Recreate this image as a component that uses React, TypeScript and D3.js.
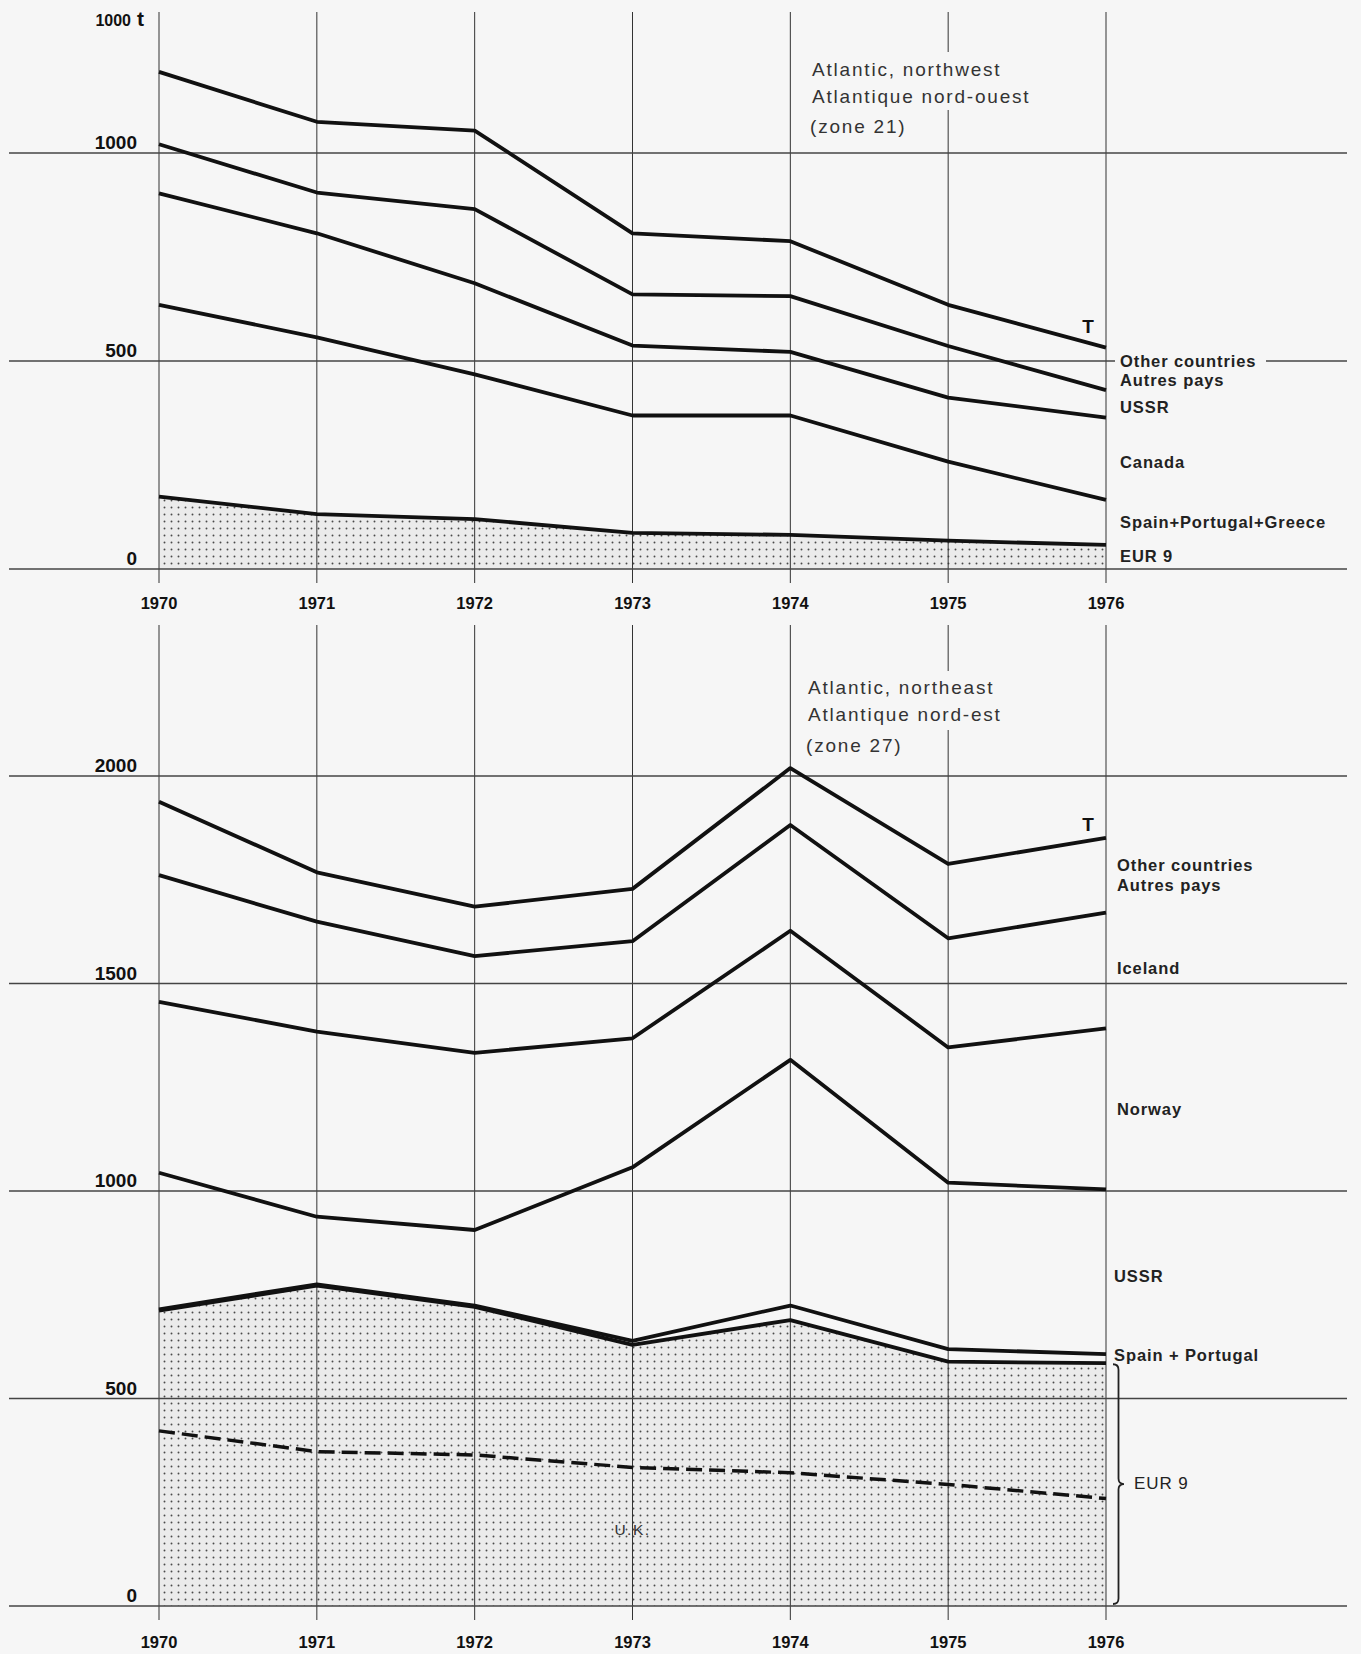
import React from "react";
import * as d3 from "d3";

// ---------- data (1000 t), bands from bottom to top ----------
const years = [1970, 1971, 1972, 1973, 1974, 1975, 1976];

// Atlantic, northwest (zone 21)
const nwEUR9 = [174, 132, 120, 87, 82, 68, 58];
const nwSpainPortugalGreece = [461, 425, 348, 282, 287, 190, 108];
const nwCanada = [268, 250, 219, 168, 153, 154, 198];
const nwUSSR = [118, 98, 178, 123, 134, 124, 66];
const nwOther = [174, 170, 189, 147, 132, 99, 102];
const nwTicks = [0, 500, 1000];

// Atlantic, northeast (zone 27)
const neUK = [422, 372, 364, 334, 321, 293, 259];
const neEUR9Rest = [290, 400, 357, 295, 368, 296, 326];
const neSpainPortugal = [3, 3, 3, 10, 35, 30, 22];
const neUSSR = [329, 163, 182, 418, 592, 401, 397];
const neNorway = [412, 446, 427, 311, 311, 326, 388];
const neIceland = [305, 265, 233, 234, 255, 263, 279];
const neOther = [177, 119, 119, 126, 137, 179, 180];
const neTicks = [0, 500, 1000, 1500, 2000];

const W = 1361;
const H = 1654;
const BG = "#f6f6f6";
const FONT = "'Liberation Sans', Arial, Helvetica, sans-serif";

export default function App() {
  const x = d3.scaleLinear().domain([1970, 1976]).range([159, 1106]);
  const yNW = d3.scaleLinear().domain([0, 1000]).range([569, 153]);
  const yNE = d3.scaleLinear().domain([0, 2000]).range([1606, 776]);

  const nwRows = years.map((yr, i) => ({
    year: yr,
    eur9: nwEUR9[i],
    spg: nwSpainPortugalGreece[i],
    canada: nwCanada[i],
    ussr: nwUSSR[i],
    other: nwOther[i],
  }));
  const nwStack = d3.stack<any>().keys(["eur9", "spg", "canada", "ussr", "other"])(nwRows);

  const neRows = years.map((yr, i) => ({
    year: yr,
    uk: neUK[i],
    eur9rest: neEUR9Rest[i],
    sp: neSpainPortugal[i],
    ussr: neUSSR[i],
    norway: neNorway[i],
    iceland: neIceland[i],
    other: neOther[i],
  }));
  const neStack = d3
    .stack<any>()
    .keys(["uk", "eur9rest", "sp", "ussr", "norway", "iceland", "other"])(neRows);

  const lineFor = (y: d3.ScaleLinear<number, number>) =>
    d3
      .line<any>()
      .x((d: any) => x(d.data.year))
      .y((d: any) => y(d[1]));
  const areaFor = (y: d3.ScaleLinear<number, number>) =>
    d3
      .area<any>()
      .x((d: any) => x(d.data.year))
      .y0(y(0))
      .y1((d: any) => y(d[1]));

  const nwLine = lineFor(yNW);
  const neLine = lineFor(yNE);

  const gridX1 = 9;
  const gridX2 = 1347;

  const brace = (bx: number, y0: number, y1: number, w: number) => {
    const ym = (y0 + y1) / 2;
    return `M${bx},${y0} q${w},0 ${w},${w} L${bx + w},${ym - w} q0,${w} ${w},${w} q${-w},0 ${-w},${w} L${bx + w},${y1 - w} q0,${w} ${-w},${w}`;
  };

  const labelStyle = {
    fontFamily: FONT,
    fontSize: 16.5,
    fontWeight: 700,
    fill: "#222",
    letterSpacing: 0.9,
  } as const;
  const tickStyle = { fontFamily: FONT, fontSize: 19, fontWeight: 700, fill: "#111" } as const;
  const yearStyle = { fontFamily: FONT, fontSize: 16.5, fontWeight: 700, fill: "#111" } as const;
  const titleStyle = {
    fontFamily: FONT,
    fontSize: 19,
    fontWeight: 400,
    fill: "#333",
    letterSpacing: 1.8,
  } as const;

  return (
    <svg
      width={W}
      height={H}
      viewBox={`0 0 ${W} ${H}`}
      style={{ position: "absolute", left: 0, top: 0, display: "block" }}
    >
      <defs>
        <pattern id="dots" width={7} height={7} patternUnits="userSpaceOnUse">
          <rect width={7} height={7} fill="#ebebeb" />
          <circle cx={3.5} cy={3.5} r={0.95} fill="#4a4a4a" />
        </pattern>
      </defs>
      <rect width={W} height={H} fill={BG} />

      {/* ================= TOP: zone 21 ================= */}
      <path d={areaFor(yNW)(nwStack[0]) || ""} fill="url(#dots)" />

      {years.map((yr) => (
        <line key={"tv" + yr} x1={x(yr)} x2={x(yr)} y1={12} y2={583} stroke="#333" strokeWidth={1} />
      ))}
      {nwTicks.map((t) => (
        <line key={"th" + t} x1={gridX1} x2={gridX2} y1={yNW(t)} y2={yNW(t)} stroke="#444" strokeWidth={1.3} />
      ))}

      <rect x={806} y={52} width={236} height={58} fill={BG} />
      <text x={812} y={76} style={titleStyle}>Atlantic, northwest</text>
      <text x={812} y={103} style={titleStyle}>Atlantique nord-ouest</text>
      <text x={810} y={133} style={titleStyle}>(zone 21)</text>

      {nwStack.map((s, i) => (
        <path key={"nwl" + i} d={nwLine(s) || ""} fill="none" stroke="#111" strokeWidth={3.8} strokeLinejoin="round" />
      ))}

      {nwTicks.map((t) => (
        <text key={"tl" + t} x={137} y={yNW(t) - 4} textAnchor="end" style={tickStyle}>
          {t}
        </text>
      ))}
      <text x={131} y={26} textAnchor="end" style={{ ...tickStyle, fontSize: 16 }}>1000</text>
      <text x={137} y={26} style={{ ...tickStyle, fontSize: 21 }}>t</text>

      {years.map((yr) => (
        <text key={"ty" + yr} x={x(yr)} y={609} textAnchor="middle" style={yearStyle}>
          {yr}
        </text>
      ))}

      <text x={1088} y={333} textAnchor="middle" style={{ ...tickStyle, fontSize: 19 }}>T</text>
      <rect x={1115} y={351} width={151} height={20} fill={BG} />
      <text x={1120} y={367} style={labelStyle}>Other countries</text>
      <text x={1120} y={386} style={labelStyle}>Autres pays</text>
      <text x={1120} y={413} style={labelStyle}>USSR</text>
      <text x={1120} y={468} style={labelStyle}>Canada</text>
      <text x={1120} y={528} style={labelStyle}>Spain+Portugal+Greece</text>
      <text x={1120} y={562} style={labelStyle}>EUR 9</text>

      {/* ================= BOTTOM: zone 27 ================= */}
      <path d={areaFor(yNE)(neStack[1]) || ""} fill="url(#dots)" />

      {years.map((yr) => (
        <line key={"bv" + yr} x1={x(yr)} x2={x(yr)} y1={625} y2={1620} stroke="#333" strokeWidth={1} />
      ))}
      {neTicks.map((t) => (
        <line key={"bh" + t} x1={gridX1} x2={gridX2} y1={yNE(t)} y2={yNE(t)} stroke="#444" strokeWidth={1.3} />
      ))}

      <rect x={803} y={671} width={206} height={59} fill={BG} />
      <text x={808} y={694} style={titleStyle}>Atlantic, northeast</text>
      <text x={808} y={721} style={titleStyle}>Atlantique nord-est</text>
      <text x={806} y={752} style={titleStyle}>(zone 27)</text>

      <path d={neLine(neStack[0]) || ""} fill="none" stroke="#111" strokeWidth={3.5} strokeDasharray="16 7" />
      {neStack.slice(1).map((s, i) => (
        <path key={"nel" + i} d={neLine(s) || ""} fill="none" stroke="#111" strokeWidth={3.8} strokeLinejoin="round" />
      ))}

      {neTicks.map((t) => (
        <text key={"bl" + t} x={137} y={yNE(t) - 4} textAnchor="end" style={tickStyle}>
          {t}
        </text>
      ))}
      {years.map((yr) => (
        <text key={"by" + yr} x={x(yr)} y={1648} textAnchor="middle" style={yearStyle}>
          {yr}
        </text>
      ))}

      <text x={1088} y={831} textAnchor="middle" style={{ ...tickStyle, fontSize: 19 }}>T</text>
      <text x={1117} y={871} style={labelStyle}>Other countries</text>
      <text x={1117} y={891} style={labelStyle}>Autres pays</text>
      <text x={1117} y={974} style={labelStyle}>Iceland</text>
      <text x={1117} y={1115} style={labelStyle}>Norway</text>
      <text x={1114} y={1282} style={labelStyle}>USSR</text>
      <text x={1114} y={1361} style={labelStyle}>Spain + Portugal</text>
      <path
        d={brace(1113, yNE(neUK[6] + neEUR9Rest[6]) + 1, yNE(0) - 2, 5.5)}
        fill="none"
        stroke="#222"
        strokeWidth={1.8}
      />
      <text x={1134} y={1489} style={{ ...labelStyle, fontWeight: 400, fontSize: 17 }}>EUR 9</text>
      <text
        x={x(1973)}
        y={1535}
        textAnchor="middle"
        style={{ fontFamily: FONT, fontSize: 15.5, fill: "#333", letterSpacing: 1.5 }}
      >
        U.K.
      </text>
    </svg>
  );
}
